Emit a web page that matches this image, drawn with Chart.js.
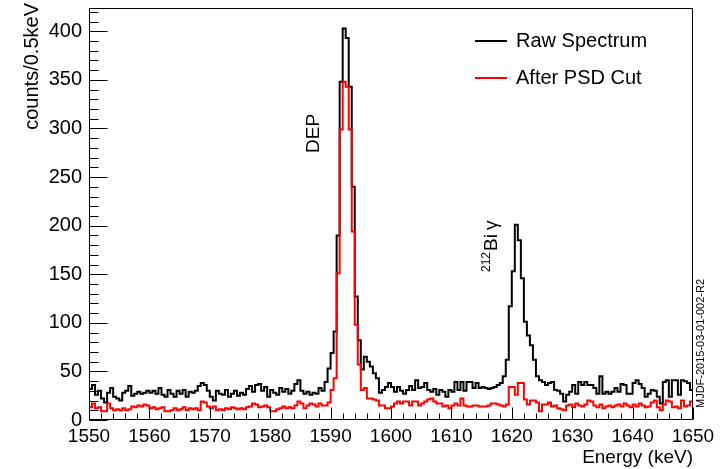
<!DOCTYPE html>
<html><head><meta charset="utf-8">
<script src="https://cdn.jsdelivr.net/npm/chart.js@4/dist/chart.umd.min.js"></script>
<style>html,body{margin:0;padding:0;background:#fff}#wrap{width:721px;height:469px}</style>
</head><body><div id="wrap"><canvas id="c" width="721" height="469"></canvas></div>
<script>
// ---- data (0.5 keV bins starting at 1550 keV) ----
const binStart = 1550;
const binWidth = 0.5;
const rawCounts = [
 32,36,26,30,22,18,28,33,24,22,20,28,30,35,25,27,29,27,28,30,
 28,30,27,33,26,24,31,27,24,30,27,31,24,29,28,30,35,38,36,30,
 24,20,30,27,26,31,24,27,30,25,28,26,32,35,29,36,37,30,34,24,
 31,28,26,33,29,32,27,30,37,41,30,27,29,26,28,27,33,30,39,53,
 69,91,190,348,403,393,343,240,127,82,52,65,60,55,48,43,28,31,34,38,
 34,29,34,30,27,31,35,31,41,33,34,38,31,29,32,26,31,29,24,31,
 29,39,31,39,30,39,39,33,38,33,34,33,32,33,34,36,38,45,62,117,
 153,201,185,146,101,87,77,62,45,41,39,36,38,39,31,30,27,19,26,29,
 36,27,39,36,39,36,36,33,27,45,27,29,27,29,33,29,37,36,27,27,
 38,41,37,33,24,27,31,30,24,17,39,41,24,41,41,26,41,40,38,31
];
const psdCounts = [
 13,17,12,13,9,9,17,12,10,11,10,12,10,11,14,13,15,14,16,15,
 12,13,11,12,13,9,9,10,12,10,11,13,10,12,11,12,10,19,18,14,
 12,14,10,11,10,12,11,13,12,11,12,11,13,14,17,16,13,14,15,13,
 9,9,11,12,14,12,13,12,15,19,17,12,15,17,16,14,17,15,15,18,
 31,43,151,299,348,343,299,194,98,57,31,33,22,22,21,20,15,15,12,12,
 14,17,19,17,19,19,15,19,19,15,17,19,21,22,19,17,17,14,15,12,
 15,17,15,22,15,14,14,15,15,14,14,14,15,17,17,16,15,14,16,34,
 34,26,38,38,21,16,20,20,18,9,16,16,18,14,15,12,11,10,15,16,
 13,17,15,14,16,20,19,15,13,16,12,14,15,13,15,16,14,17,15,13,
 16,14,17,15,13,14,18,20,13,10,16,20,19,13,14,12,20,14,15,19
];
const seriesLabels = ['Raw Spectrum', 'After PSD Cut'];
const xTicks = [1550,1560,1570,1580,1590,1600,1610,1620,1630,1640,1650];
const yTicks = [0,50,100,150,200,250,300,350,400];
const xMinorStep = 2;
const yMinorStep = 10;
const xRange = [1550, 1650];
const yRange = [0, 424];

function toSteps(vals){
  const pts = vals.map((v,i)=>({x: binStart + binWidth*i, y: v}));
  pts.push({x: binStart + binWidth*vals.length, y: vals[vals.length-1]});
  return pts;
}

const FONT = '"Liberation Sans", Arial, Helvetica, sans-serif';

const decor = {
  id: 'decor',
  afterDatasetsDraw(chart){
    const {ctx, chartArea:a, scales:{x, y}} = chart;
    ctx.save();
    ctx.strokeStyle = '#000'; ctx.lineWidth = 1;
    const L = Math.round(a.left)+0.5, R = Math.round(a.right)-0.5, T = Math.round(a.top)+0.5, B = Math.round(a.bottom)-0.5;
    ctx.strokeRect(L, T, R-L, B-T);
    ctx.beginPath();
    for (let v = xRange[0]; v <= xRange[1]+1e-9; v += xMinorStep){
      const px = Math.round(x.getPixelForValue(v))+0.5;
      const major = xTicks.includes(Math.round(v));
      ctx.moveTo(px, B); ctx.lineTo(px, B - (major ? 12 : 6));
    }
    for (let v = yRange[0]; v <= yRange[1]; v += yMinorStep){
      const py = Math.round(y.getPixelForValue(v))+0.5;
      const major = yTicks.includes(v);
      ctx.moveTo(L, py); ctx.lineTo(L + (major ? 18 : 9), py);
    }
    ctx.stroke();

    // legend
    const legY = [41, 78];
    const ds = chart.data.datasets;
    ctx.font = '20px ' + FONT;
    ctx.textBaseline = 'middle'; ctx.textAlign = 'left';
    seriesLabels.forEach((lab, i)=>{
      ctx.strokeStyle = ds[i].borderColor; ctx.lineWidth = 2;
      ctx.beginPath(); ctx.moveTo(475, legY[i]); ctx.lineTo(507, legY[i]); ctx.stroke();
      ctx.fillStyle = '#000';
      ctx.fillText(lab, 516, legY[i]);
    });

    // DEP label
    ctx.fillStyle = '#000';
    ctx.save();
    ctx.translate(319, 153); ctx.rotate(-Math.PI/2);
    ctx.font = '19px ' + FONT; ctx.textBaseline = 'alphabetic'; ctx.textAlign = 'left';
    ctx.fillText('DEP', 0, 0);
    ctx.restore();

    // 212Bi gamma label
    ctx.save();
    ctx.translate(497, 272); ctx.rotate(-Math.PI/2);
    ctx.textBaseline = 'alphabetic'; ctx.textAlign = 'left';
    ctx.font = '12px ' + FONT;
    ctx.fillText('212', 0, -7);
    let w = ctx.measureText('212').width;
    ctx.font = '19px ' + FONT;
    ctx.fillText('Bi', w + 1, 0);
    w += 1 + ctx.measureText('Bi').width;
    ctx.fillText('\u03B3', w + 4, 0);
    ctx.restore();

    // y-axis title
    ctx.save();
    ctx.translate(38, 3); ctx.rotate(-Math.PI/2);
    ctx.font = '20px ' + FONT; ctx.textBaseline = 'alphabetic'; ctx.textAlign = 'right';
    ctx.fillText('counts/0.5keV', 0, 0);
    ctx.restore();

    // reference id
    ctx.save();
    ctx.translate(704, 408); ctx.rotate(-Math.PI/2);
    ctx.font = '11px ' + FONT; ctx.textBaseline = 'alphabetic'; ctx.textAlign = 'left';
    ctx.fillText('MJDF-2015-03-01-002-R2', 0, 0);
    ctx.restore();

    ctx.restore();
  }
};

new Chart(document.getElementById('c'), {
  type: 'line',
  data: {
    datasets: [
      {label: seriesLabels[0], data: toSteps(rawCounts), borderColor: '#000000', borderWidth: 2, stepped: 'before', pointRadius: 0, fill: false, order: 1},
      {label: seriesLabels[1], data: toSteps(psdCounts), borderColor: '#ff0000', borderWidth: 2, stepped: 'before', pointRadius: 0, fill: false, order: 0}
    ]
  },
  options: {
    responsive: false, animation: false, devicePixelRatio: 1,
    layout: {padding: {left: 0, right: 28, top: 8, bottom: 0}},
    plugins: {legend: {display: false}, tooltip: {enabled: false}},
    scales: {
      x: {
        type: 'linear', min: xRange[0], max: xRange[1],
        afterBuildTicks: s => { s.ticks = xTicks.map(v => ({value: v})); },
        afterFit: s => { s.height = 49; s.paddingLeft = 0; s.paddingRight = 0; },
        grid: {display: false, drawTicks: false},
        border: {display: false},
        ticks: {color: '#000', font: {family: FONT, size: 19}, padding: 5, maxRotation: 0, autoSkip: false, callback: v => String(v)},
        title: {display: true, text: 'Energy (keV)', align: 'end', color: '#000', font: {family: FONT, size: 19}, padding: {top: 0, bottom: 0}}
      },
      y: {
        type: 'linear', min: yRange[0], max: yRange[1],
        afterBuildTicks: s => { s.ticks = yTicks.map(v => ({value: v})); },
        afterFit: s => { s.width = 89; s.paddingTop = 0; s.paddingBottom = 0; },
        grid: {display: false, drawTicks: false},
        border: {display: false},
        ticks: {color: '#000', font: {family: FONT, size: 20}, padding: 7, callback: v => String(v)},
        title: {display: false}
      }
    }
  },
  plugins: [decor]
});
</script>
</body></html>
